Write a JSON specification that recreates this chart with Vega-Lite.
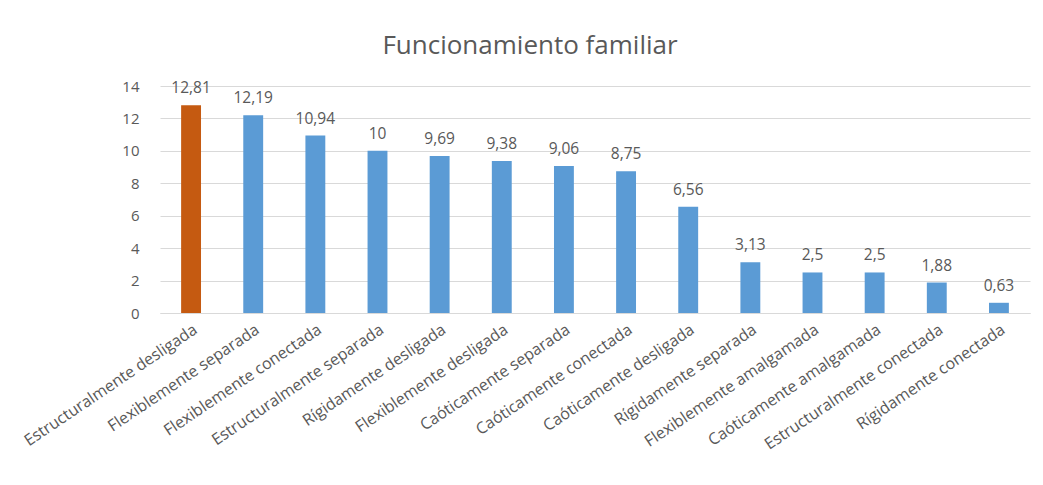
{
  "$schema": "https://vega.github.io/schema/vega-lite/v6.json",
  "width": 870,
  "height": 227,
  "autosize": "none",
  "padding": {"left": 160, "top": 86, "right": 13, "bottom": 172},
  "background": "white",
  "title": {
    "text": "Funcionamiento familiar",
    "fontSize": 26,
    "font": "Open Sans",
    "fontWeight": "normal",
    "color": "#595959",
    "anchor": "middle",
    "dx": -65,
    "offset": 20
  },
  "config": {
    "locale": {"number": {"decimal": ",", "thousands": ".", "grouping": [3], "currency": ["", " €"]}},
    "view": {"stroke": null},
    "font": "Open Sans"
  },
  "data": {
    "values": [
      {"categoria": "Estructuralmente desligada", "valor": 12.81},
      {"categoria": "Flexiblemente separada", "valor": 12.19},
      {"categoria": "Flexiblemente conectada", "valor": 10.94},
      {"categoria": "Estructuralmente separada", "valor": 10},
      {"categoria": "Rígidamente desligada", "valor": 9.69},
      {"categoria": "Flexiblemente desligada", "valor": 9.38},
      {"categoria": "Caóticamente separada", "valor": 9.06},
      {"categoria": "Caóticamente conectada", "valor": 8.75},
      {"categoria": "Caóticamente desligada", "valor": 6.56},
      {"categoria": "Rígidamente separada", "valor": 3.13},
      {"categoria": "Flexiblemente amalgamada", "valor": 2.5},
      {"categoria": "Caóticamente amalgamada", "valor": 2.5},
      {"categoria": "Estructuralmente conectada", "valor": 1.88},
      {"categoria": "Rígidamente conectada", "valor": 0.63}
    ]
  },
  "encoding": {
    "x": {
      "field": "categoria",
      "type": "nominal",
      "sort": null,
      "scale": {"paddingInner": 0.68, "paddingOuter": 0.34},
      "axis": {
        "title": null,
        "labelAngle": -34,
        "labelFontSize": 16,
        "labelColor": "#595959",
        "labelPadding": 8,
        "ticks": false,
        "domainColor": "#d9d9d9",
        "labelLimit": 300
      }
    },
    "y": {
      "field": "valor",
      "type": "quantitative",
      "scale": {"domain": [0, 14]},
      "axis": {
        "title": null,
        "values": [0, 2, 4, 6, 8, 10, 12, 14],
        "labelFontSize": 15,
        "labelColor": "#595959",
        "labelPadding": 21,
        "ticks": false,
        "domain": false,
        "gridColor": "#d9d9d9"
      }
    }
  },
  "layer": [
    {
      "mark": {"type": "bar"},
      "encoding": {
        "color": {
          "condition": {"test": "datum.categoria === 'Estructuralmente desligada'", "value": "#C55A11"},
          "value": "#5B9BD5"
        }
      }
    },
    {
      "mark": {"type": "text", "baseline": "bottom", "dy": -9, "fontSize": 15.5, "color": "#595959"},
      "encoding": {
        "text": {"field": "valor", "type": "quantitative", "format": ".2~f"}
      }
    }
  ]
}
